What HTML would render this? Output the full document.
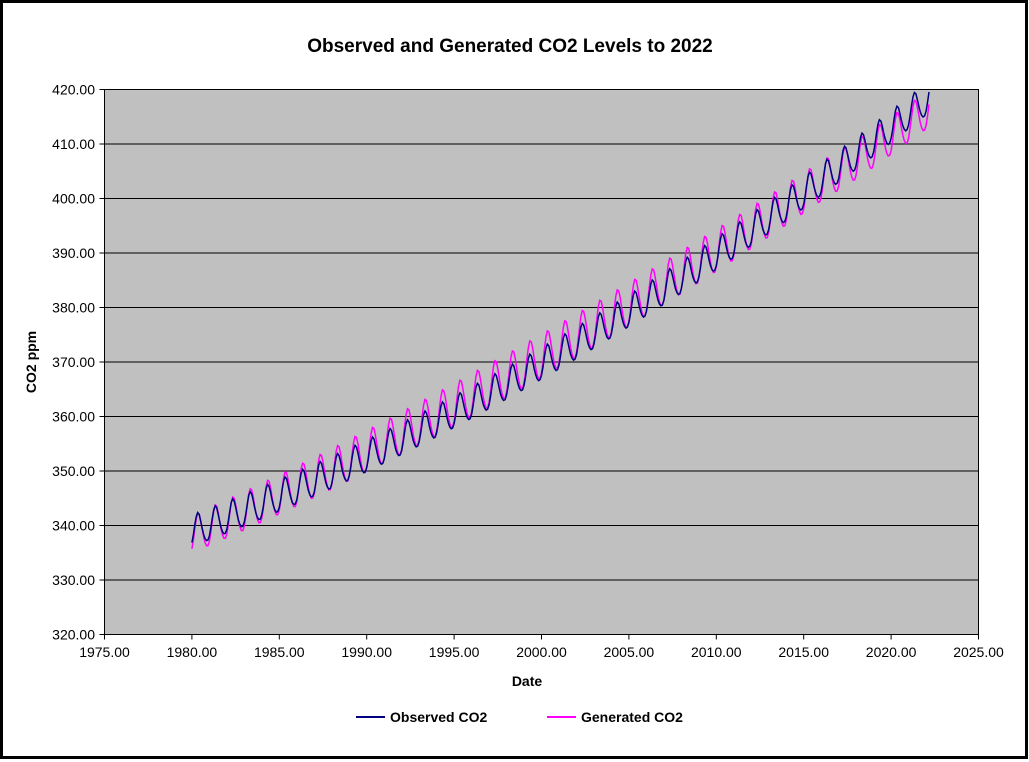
<!DOCTYPE html>
<html><head><meta charset="utf-8"><style>
html,body{margin:0;padding:0;background:#fff;}
svg{display:block;font-family:"Liberation Sans",Arial,sans-serif;}
</style></head><body>
<svg id="s" width="1029" height="762" xmlns="http://www.w3.org/2000/svg">
<rect x="1.5" y="1.5" width="1025" height="756" fill="#fff" stroke="#000" stroke-width="3"/>
<text x="510" y="52" text-anchor="middle" font-size="19" font-weight="bold">Observed and Generated CO2 Levels to 2022</text>
<rect x="104.5" y="89.5" width="874" height="545" fill="#c0c0c0" stroke="#000" stroke-width="1"/>
<g id="grid" stroke="#000" stroke-width="1"></g>
<g id="lab" font-size="14"></g>
<text x="527" y="686" text-anchor="middle" font-size="14" font-weight="bold">Date</text>
<text transform="translate(36,362) rotate(-90)" text-anchor="middle" font-size="14" font-weight="bold">CO2 ppm</text>
<path id="gen" fill="none" stroke="#ff00ff" stroke-width="1.5"/>
<path id="obs" fill="none" stroke="#000080" stroke-width="1.5"/>
<line x1="356" y1="717" x2="385" y2="717" stroke="#000080" stroke-width="2"/>
<text x="390" y="722" font-size="14" font-weight="bold">Observed CO2</text>
<line x1="547" y1="717" x2="576" y2="717" stroke="#ff00ff" stroke-width="2"/>
<text x="581" y="722" font-size="14" font-weight="bold">Generated CO2</text>
</svg>
<script>
var NS="http://www.w3.org/2000/svg";
function X(t){return 104.5+(t-1975)*874/50;}
function Y(v){return 634.5-(v-320)*5.45;}
var g=document.getElementById('grid'),l=document.getElementById('lab');
function el(p,tag,a,txt){var e=document.createElementNS(NS,tag);for(var k in a)e.setAttribute(k,a[k]);if(txt)e.textContent=txt;p.appendChild(e);}
for(var v=320;v<=420;v+=10){var y=Y(v);if(v>320&&v<420)el(g,'line',{x1:104.5,x2:978.5,y1:y,y2:y});el(g,'line',{x1:99.5,x2:104.5,y1:y,y2:y});el(l,'text',{x:95,y:y+5,'text-anchor':'end'},v.toFixed(2));}
for(var t=1975;t<=2025;t+=5){var x=X(t);el(g,'line',{x1:x,x2:x,y1:634.5,y2:639.5});el(l,'text',{x:x,y:657,'text-anchor':'middle'},t.toFixed(2));}
function trend(t){var u=t-1980;return 338.8+1.216*u+0.01594*u*u;}
var po="",pg="";
for(var i=0;i<=506;i++){var t=1980+i/12;var ph=2*Math.PI*(t-0.1);
var o=trend(t)+2.9*Math.sin(ph)+0.3*Math.sin(2*ph-1);
var u=(t-1980)/42;
var off=-0.6+2.0*Math.sin(Math.PI*Math.min(1,u*1.1))-(u>0.85?1.5*(u-0.85)/0.15:0);
var amp=3.4+0.6*Math.sin(Math.PI*u);
var gv=trend(t)+off+amp*Math.sin(ph-0.1)+0.3*Math.sin(2*ph-1.1);
po+=(i?"L":"M")+X(t).toFixed(1)+" "+Y(o).toFixed(1);
pg+=(i?"L":"M")+X(t).toFixed(1)+" "+Y(gv).toFixed(1);}
document.getElementById('obs').setAttribute('d',po);
document.getElementById('gen').setAttribute('d',pg);
</script>
</body></html>
